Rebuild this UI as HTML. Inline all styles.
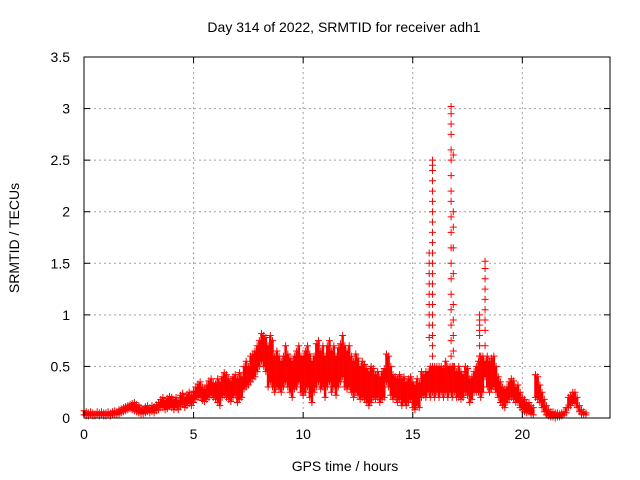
<!DOCTYPE html>
<html><head><meta charset="utf-8"><style>
html,body{margin:0;padding:0;background:#fff}
svg{display:block;font-family:"Liberation Sans",sans-serif}
</style></head><body>
<svg id="c" width="640" height="480"></svg>
<script>
const hours=Array.from({length:230},(_, i)=>i/10);
const hiVals=[.07,.06,.05,.06,.05,.04,.06,.05,.06,.05,
.05,.06,.05,.06,.07,.06,.08,.09,.1,.11,
.12,.13,.14,.15,.13,.12,.1,.09,.11,.12,
.1,.12,.11,.13,.15,.18,.2,.17,.19,.21,
.2,.18,.2,.17,.22,.24,.2,.23,.25,.22,
.26,.3,.33,.35,.3,.28,.32,.36,.38,.34,
.33,.38,.35,.4,.44,.42,.38,.36,.4,.42,
.38,.44,.4,.5,.55,.5,.6,.62,.65,.7,
.75,.82,.8,.78,.7,.8,.75,.6,.65,.6,
.55,.6,.7,.62,.58,.55,.6,.65,.7,.6,
.6,.65,.7,.62,.55,.6,.72,.75,.65,.7,
.6,.7,.75,.65,.7,.6,.68,.72,.8,.7,
.65,.7,.6,.55,.62,.58,.5,.55,.52,.48,
.45,.5,.48,.42,.45,.4,.45,.48,.62,.6,
.5,.42,.4,.38,.42,.38,.4,.35,.38,.4,
.35,.32,.38,.34,.45,.42,.45,.45,.5,.5,
.5,.5,.5,.5,.48,.55,.5,.5,.5,.5,
.45,.5,.45,.42,.5,.48,.38,.4,.45,.5,
.55,.6,.6,.55,.6,.55,.58,.6,.5,.4,
.35,.3,.28,.3,.35,.38,.36,.3,.32,.25,
.2,.18,.15,.15,.12,.1,.42,.4,.32,.25,
.18,.12,.08,.06,.06,.05,.05,.04,.05,.06,
.1,.2,.22,.25,.25,.2,.12,.08,.06,.05];
const loVals=[.03,.02,.02,.03,.02,.02,.03,.02,.03,.02,
.02,.03,.02,.03,.04,.03,.04,.05,.06,.07,
.08,.09,.08,.07,.06,.05,.04,.04,.05,.06,
.05,.06,.05,.07,.08,.1,.1,.08,.09,.11,
.1,.08,.1,.08,.11,.13,.1,.12,.14,.12,
.15,.18,.2,.2,.17,.16,.18,.2,.22,.2,
.18,.15,.12,.2,.22,.2,.18,.16,.2,.22,
.15,.18,.2,.28,.3,.32,.35,.38,.4,.45,
.5,.55,.5,.45,.3,.35,.3,.25,.3,.28,
.25,.3,.35,.3,.25,.2,.28,.3,.35,.25,
.22,.25,.3,.2,.15,.25,.3,.35,.28,.3,
.2,.3,.35,.25,.3,.22,.3,.35,.4,.3,
.28,.3,.25,.2,.25,.22,.18,.2,.18,.15,
.12,.15,.2,.18,.2,.15,.18,.2,.35,.3,
.22,.18,.2,.15,.18,.12,.15,.12,.15,.18,
.1,.08,.12,.1,.2,.22,.2,.25,.2,.25,
.2,.25,.2,.25,.2,.25,.2,.25,.2,.25,
.2,.2,.18,.2,.25,.22,.15,.18,.25,.25,
.25,.2,.25,.4,.3,.25,.28,.3,.25,.2,
.15,.12,.1,.15,.18,.2,.18,.15,.15,.1,
.08,.06,.05,.06,.04,.03,.2,.18,.15,.1,
.06,.03,.02,.01,.01,0,.01,.01,.02,.03,
.05,.1,.12,.15,.14,.1,.06,.04,.03,.03];
const spikeTimes=[
15.9,15.9,15.9,15.9,15.9,15.9,15.9,15.9,15.9,15.9,15.9,15.9,15.9,15.9,15.9,15.9,15.9,15.9,15.9,15.9,15.9,
15.75,15.75,15.75,15.75,15.75,15.75,15.75,15.75,15.75,
16.75,16.75,16.75,16.75,16.75,16.75,16.75,16.75,16.75,16.75,16.75,16.75,16.75,16.75,16.75,16.75,16.75,16.75,16.75,
16.85,16.85,16.85,16.85,16.85,16.85,16.85,16.85,16.85,16.85,
18.3,18.3,18.3,18.3,18.3,18.3,18.3,18.3,18.3,
18.05,18.05,18.05,18.05,18.05,18.05,18.05,18.05];
const spikeVals=[
2.5,2.45,2.4,2.3,2.2,2.1,2.0,1.9,1.8,1.7,1.6,1.5,1.4,1.3,1.2,1.1,1.0,0.9,0.8,0.7,0.6,
1.6,1.5,1.4,1.3,1.2,1.1,1.0,0.9,0.78,
3.02,2.95,2.85,2.75,2.6,2.5,2.35,2.2,2.1,1.95,1.8,1.65,1.5,1.35,1.2,1.05,0.9,0.75,0.6,
2.55,2.0,1.85,1.65,1.4,1.1,0.95,0.8,0.65,0.5,
1.52,1.45,1.35,1.25,1.15,1.05,0.95,0.85,0.7,
1.0,0.95,0.9,0.85,0.8,0.7,0.6,0.5];
const xTicks=[0,5,10,15,20];
const yTicks=[0,0.5,1,1.5,2,2.5,3,3.5];
const yTickLabels=["0","0.5","1","1.5","2","2.5","3","3.5"];

const L=84,R=610,T=57,B=418,XMAX=24,YMAX=3.5;
const sx=v=>L+v/XMAX*(R-L), sy=v=>B-v/YMAX*(B-T);
const svg=document.getElementById('c');const NS='http://www.w3.org/2000/svg';
function mk(tag,at,parent){const e=document.createElementNS(NS,tag);for(const k in at)e.setAttribute(k,at[k]);(parent||svg).appendChild(e);return e;}

const grid=mk('g',{});


xTicks.forEach(t=>{if(t>0)mk('line',{x1:sx(t),x2:sx(t),y1:T,y2:B,stroke:'#a0a0a0','stroke-dasharray':'2,3'},grid);});
yTicks.forEach(t=>{if(t>0&&t<YMAX)mk('line',{x1:L,x2:R,y1:sy(t),y2:sy(t),stroke:'#a0a0a0','stroke-dasharray':'2,3'},grid);});

const series=mk('g',{stroke:'#ff0000','stroke-width':1});


function plus(x,y){
  const p=mk('path',{d:`M${x-3.5},${y}h7M${x},${y-3.5}v7`},series);
  
}
hours.forEach((h,i)=>{
  const x=sx(h);
  const bar=mk('line',{x1:x,x2:x,y1:sy(loVals[i]),y2:sy(hiVals[i]),'stroke-width':2.5},series);
  
  plus(x,sy(hiVals[i]));
  plus(x,sy(loVals[i]));
});
spikeTimes.forEach((t,i)=>{plus(sx(t),sy(spikeVals[i]));});

const ax=mk('g',{stroke:'#000','stroke-width':1});


mk('rect',{x:L,y:T,width:R-L,height:B-T,fill:'none'},ax);
xTicks.forEach(t=>{const x=sx(t);mk('line',{x1:x,x2:x,y1:B,y2:B-6},ax);mk('line',{x1:x,x2:x,y1:T,y2:T+6},ax);
  const tx=mk('text',{x:x,y:B+21,'text-anchor':'middle','font-size':14,stroke:'none',fill:'#000'});tx.textContent=t;
  });
yTicks.forEach((t,i)=>{const y=sy(t);mk('line',{x1:L,x2:L+6,y1:y,y2:y},ax);mk('line',{x1:R,x2:R-6,y1:y,y2:y},ax);
  const tx=mk('text',{x:L-14,y:y+5,'text-anchor':'end','font-size':14,stroke:'none',fill:'#000'});tx.textContent=yTickLabels[i];
  });
</script>
<svg style="position:absolute;left:0;top:0" width="640" height="480">
<text x="344" y="32" text-anchor="middle" font-size="14" font-family="Liberation Sans,sans-serif">Day 314 of 2022, SRMTID for receiver adh1</text>
<text x="345" y="471" text-anchor="middle" font-size="14" font-family="Liberation Sans,sans-serif">GPS time / hours</text>
<text transform="translate(19,238) rotate(-90)" text-anchor="middle" font-size="14" font-family="Liberation Sans,sans-serif">SRMTID / TECUs</text>
</svg>
</body></html>
